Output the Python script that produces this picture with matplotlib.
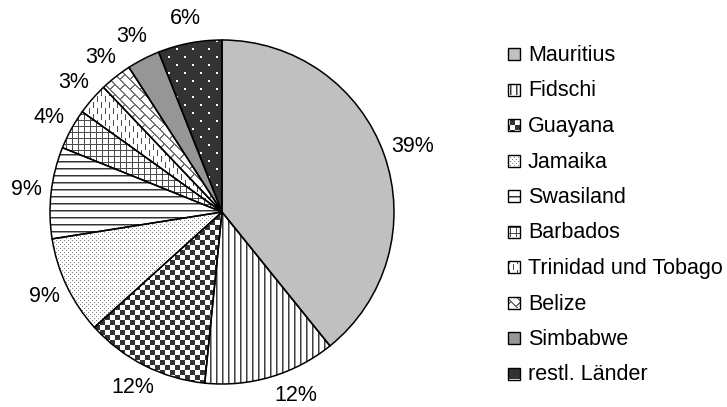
import numpy as np
import matplotlib
matplotlib.use('Agg')
import matplotlib.pyplot as plt
from matplotlib.patches import Rectangle, Wedge

countries = ['Mauritius', 'Fidschi', 'Guayana', 'Jamaika', 'Swasiland', 'Barbados',
             'Trinidad und Tobago', 'Belize', 'Simbabwe', 'restl. Länder']
shares = [39.2, 12.4, 11.7, 9.2, 8.6, 3.8, 3.0, 3.0, 3.1, 6.0]

W, H = 727, 407
FONT = 'Liberation Sans'
fig = plt.figure(figsize=(W / 100, H / 100), dpi=100)
ax = fig.add_axes([0, 0, 1, 1])

yy, xx = np.mgrid[0:H, 0:W]


def pat_solid(g):
    return np.full((H, W), g)


def pat_vlines():
    v = np.ones((H, W))
    v[xx % 6 == 0] = 0.25
    v[xx % 6 == 1] = 0.6
    return v


def pat_checker():
    return np.where(((xx // 5) + (yy // 5)) % 2 == 0, 0.2, 1.0)


def pat_dots():
    v = np.ones((H, W))
    v[(xx % 4 == 0) & (yy % 4 == 0)] = 0.5
    v[(xx % 4 == 2) & (yy % 4 == 2)] = 0.5
    return v


def pat_hlines():
    v = np.ones((H, W))
    v[yy % 7 == 0] = 0.2
    v[yy % 7 == 1] = 0.6
    return v


def pat_grid():
    v = np.ones((H, W))
    v[(xx % 6 == 0) | (yy % 6 == 0)] = 0.3
    return v


def pat_dashes():
    v = np.ones((H, W))
    v[(xx % 8 == 1) & ((yy % 12) < 6)] = 0.3
    v[(xx % 8 == 5) & ((yy % 12) >= 6)] = 0.3
    return v


def pat_brick():
    v = np.ones((H, W))
    u = (xx + yy) / np.sqrt(2)
    w = (xx - yy) / np.sqrt(2)
    row = np.floor(w / 7).astype(int)
    mortar_long = (w % 7) < 1.3
    mortar_short = ((u + (row % 2) * 7) % 14) < 1.3
    v[mortar_long | mortar_short] = 0.45
    return v


def pat_darkdots():
    v = np.full((H, W), 0.2)
    m1 = (xx % 16 < 2) & (yy % 16 < 2)
    m2 = ((xx + 8) % 16 < 2) & ((yy + 8) % 16 < 2)
    v[m1 | m2] = 1.0
    return v


patterns = [pat_solid(0.753), pat_vlines(), pat_checker(), pat_dots(), pat_hlines(),
            pat_grid(), pat_dashes(), pat_brick(), pat_solid(0.59), pat_darkdots()]

wedges, texts, autotexts = ax.pie(
    shares, startangle=90, counterclock=False, center=(222, 195), radius=172,
    colors=['white'] * len(shares), autopct=lambda p: f'{p:.0f}%', pctdistance=1.145,
    wedgeprops=dict(edgecolor='none'), frame=True,
    textprops=dict(fontsize=15.5, family=FONT, color='black'))

# small nudges so the labels sit where the original places them
lx, ly = autotexts[0].get_position()
autotexts[0].set_position((lx + 5, ly))
lx, ly = autotexts[1].get_position()
autotexts[1].set_position((lx + 18, ly + 5))

ax.set_xlim(0, W)
ax.set_ylim(0, H)
ax.set_aspect('auto')
ax.axis('off')


def fill_pattern(patch, pat):
    rgb = np.dstack([pat, pat, pat])
    im = ax.imshow(rgb, extent=(0, W, 0, H), origin='upper', interpolation='nearest',
                   aspect='auto', zorder=2, vmin=0, vmax=1)
    im.set_clip_path(patch)


for w, pat in zip(wedges, patterns):
    fill_pattern(w, pat)
    ax.add_patch(Wedge(w.center, w.r, w.theta1, w.theta2, fill=False,
                       edgecolor='black', linewidth=1.1, zorder=5))

# legend
for i, (name, pat) in enumerate(zip(countries, patterns)):
    top = 48 + 35.5 * i
    rect = Rectangle((508, H - top - 12), 12, 12, facecolor='white',
                     edgecolor='none', zorder=1)
    ax.add_patch(rect)
    fill_pattern(rect, pat)
    ax.add_patch(Rectangle((508, H - top - 12), 12, 12, fill=False,
                           edgecolor='black', linewidth=1.0, zorder=5))
    ax.text(528, H - (61 + 35.5 * i), name, fontsize=15.5, family=FONT,
            va='baseline', ha='left')

ax.set_xlim(0, W)
ax.set_ylim(0, H)
fig.savefig('out.png', dpi=100, facecolor='white')
